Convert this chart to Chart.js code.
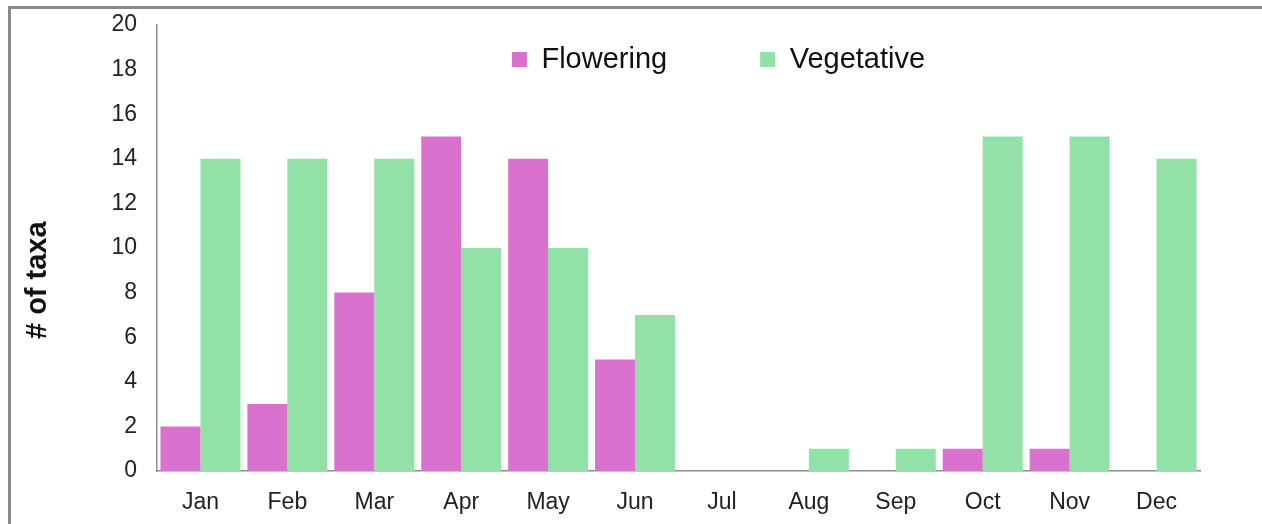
<!DOCTYPE html>
<html>
<head>
<meta charset="utf-8">
<script src="https://cdn.jsdelivr.net/npm/chart.js@4.4.0/dist/chart.umd.min.js"></script>
<style>
  html, body { margin: 0; padding: 0; background: #fff; }
  #frame {
    position: absolute; left: 8px; top: 6px; width: 1300px; height: 600px;
    border-left: 3px solid #898989; border-top: 3px solid #898989;
  }
  #wrap { position: absolute; left: 0; top: 0; width: 1262px; height: 524px; }
</style>
</head>
<body>
<div id="frame"></div>
<div id="wrap"><canvas id="taxa"></canvas></div>
<script>
// du lieu doc tu hinh
var months = ['Jan', 'Feb', 'Mar', 'Apr', 'May', 'Jun', 'Jul', 'Aug', 'Sep', 'Oct', 'Nov', 'Dec'];
var flowering = [2, 3, 8, 15, 14, 5, 0, 0, 0, 1, 1, 0];
var vegetative = [14, 14, 14, 10, 10, 7, 0, 1, 1, 15, 15, 14];
var yTicks = [0, 2, 4, 6, 8, 10, 12, 14, 16, 18, 20];

// legend nam trong vung ve: khong chiem cho, roi dich xuong
var moveLegend = {
    id: 'moveLegend',
    beforeLayout: function (chart) {
        var lg = chart.legend;
        if (lg && !lg._patched) {
            var fit = lg.fit;
            lg.fit = function () { fit.call(this); this.height = 0; };
            lg._patched = true;
        }
    },
    afterLayout: function (chart) {
        var lg = chart.legend;
        lg.left += 110; lg.right += 110;
        lg.top -= 73;
        lg.bottom = lg.top + 250;
        lg.height = 250;
    }
};

var ctx = document.getElementById('taxa').getContext('2d');
var _myChart = new Chart(ctx, {
    type: 'bar',
    data: {
        labels: months,
        datasets: [{
            label: 'Flowering',
            data: flowering,
            backgroundColor: '#d972ce',
            borderWidth: 0
        }, {
            label: 'Vegetative',
            data: vegetative,
            backgroundColor: '#92e1a6',
            borderWidth: 0
        }]
    },
    options: {
        responsive: true,
        maintainAspectRatio: false,
        animation: false,
        categoryPercentage: 0.92,
        barPercentage: 1,
        layout: { padding: { left: 17, top: 25, right: 62, bottom: 0 } },
        plugins: {
            tooltip: { enabled: false },
            legend: {
                position: 'top',
                align: 'center',
                labels: {
                    boxWidth: 15,
                    boxHeight: 15,
                    padding: 93,
                    color: '#111',
                    font: { family: 'Liberation Sans', size: 29 }
                }
            }
        },
        scales: {
            x: {
                grid: { display: false, drawTicks: false },
                border: { color: '#8c8c8c', width: 1.5 },
                ticks: {
                    color: '#222', padding: 18,
                    font: { family: 'Liberation Sans', size: 23 }
                },
                afterFit: function (scale) { scale.height = 53; }
            },
            y: {
                min: 0, max: 20,
                grid: { display: false, drawTicks: false },
                border: { color: '#8c8c8c', width: 1.5 },
                afterBuildTicks: function (scale) {
                    scale.ticks = yTicks.map(function (v) { return { value: v }; });
                },
                ticks: {
                    color: '#222', padding: 20,
                    font: { family: 'Liberation Sans', size: 23 }
                },
                title: {
                    display: true,
                    text: '# of taxa        ',
                    color: '#111',
                    font: { family: 'Liberation Sans', size: 29, weight: 'bold' }
                },
                afterFit: function (scale) {
                    scale.width = 140;
                    scale.paddingTop = 0;
                    scale.paddingBottom = 0;
                }
            }
        }
    },
    plugins: [moveLegend]
});
</script>
</body>
</html>
